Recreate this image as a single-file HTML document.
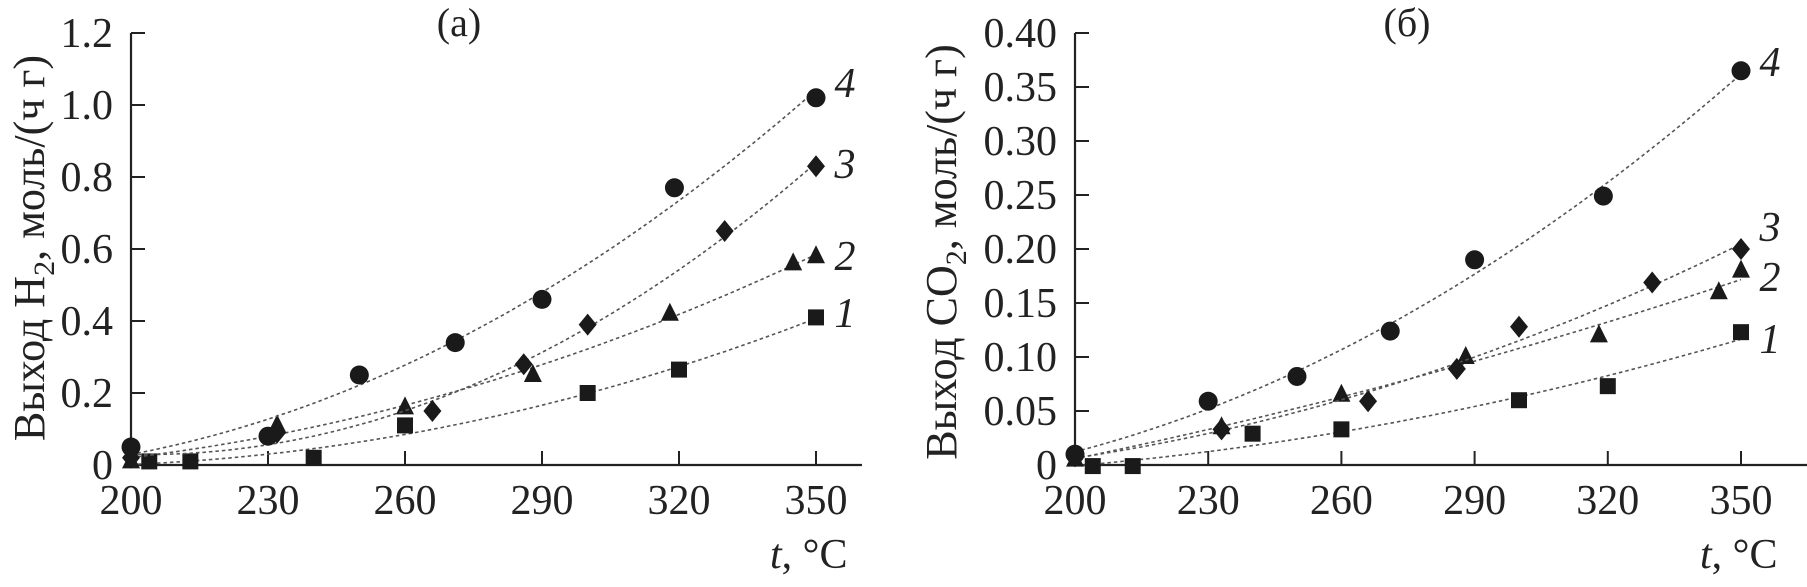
<!DOCTYPE html>
<html><head><meta charset="utf-8">
<style>
html,body{margin:0;padding:0;background:#fff;}
svg, svg text{font-family:"Liberation Serif","DejaVu Serif",serif;}
</style></head>
<body>
<svg id="fig" width="1807" height="582" viewBox="0 0 1807 582" xmlns="http://www.w3.org/2000/svg" font-family="Liberation Serif, DejaVu Serif, serif"></svg>
<script>
// ---- data: panel (a) H2 yield ----
const xTicks = [200, 230, 260, 290, 320, 350];
const yTicksA = [0, 0.2, 0.4, 0.6, 0.8, 1.0, 1.2];
const yTickLabelsA = ["0", "0.2", "0.4", "0.6", "0.8", "1.0", "1.2"];
const a1x = [204, 213, 240, 260, 300, 320, 350];
const a1y = [0.01, 0.01, 0.02, 0.11, 0.20, 0.265, 0.41];
const a2x = [200, 232, 260, 288, 318, 345, 350];
const a2y = [0.01, 0.11, 0.16, 0.25, 0.42, 0.56, 0.58];
const a3x = [200, 232, 266, 286, 300, 330, 350];
const a3y = [0.02, 0.09, 0.15, 0.28, 0.39, 0.65, 0.83];
const a4x = [200, 230, 250, 271, 290, 319, 350];
const a4y = [0.05, 0.08, 0.25, 0.34, 0.46, 0.77, 1.02];
// ---- data: panel (б) CO2 yield ----
const yTicksB = [0, 0.05, 0.10, 0.15, 0.20, 0.25, 0.30, 0.35, 0.40];
const yTickLabelsB = ["0", "0.05", "0.10", "0.15", "0.20", "0.25", "0.30", "0.35", "0.40"];
const b1x = [204, 213, 240, 260, 300, 320, 350];
const b1y = [-0.001, -0.001, 0.029, 0.033, 0.06, 0.073, 0.123];
const b2x = [200, 233, 260, 288, 318, 345, 350];
const b2y = [0.005, 0.035, 0.065, 0.10, 0.12, 0.16, 0.18];
const b3x = [200, 233, 266, 286, 300, 330, 350];
const b3y = [0.008, 0.033, 0.059, 0.089, 0.128, 0.169, 0.20];
const b4x = [200, 230, 250, 271, 290, 319, 350];
const b4y = [0.01, 0.059, 0.082, 0.124, 0.19, 0.249, 0.365];
const seriesLabels = ["1", "2", "3", "4"];

const NS = "http://www.w3.org/2000/svg";
const svg = document.getElementById("fig");
const FONT = "Liberation Serif, DejaVu Serif, serif";
function el(tag, attrs, parent) {
  const e = document.createElementNS(NS, tag);
  for (const k in attrs) e.setAttribute(k, attrs[k]);
  if (tag === "text") e.setAttribute("font-family", FONT);
  (parent || svg).appendChild(e);
  return e;
}
function fitQuad(xs, ys) {
  let S = [[0,0,0],[0,0,0],[0,0,0]], R = [0,0,0];
  for (let i = 0; i < xs.length; i++) {
    const t = xs[i] - 200, p = [1, t, t*t];
    for (let r = 0; r < 3; r++) { R[r] += p[r]*ys[i]; for (let c = 0; c < 3; c++) S[r][c] += p[r]*p[c]; }
  }
  for (let i = 0; i < 3; i++) {
    for (let j = i+1; j < 3; j++) {
      const f = S[j][i]/S[i][i];
      for (let k = i; k < 3; k++) S[j][k] -= f*S[i][k];
      R[j] -= f*R[i];
    }
  }
  const c = [0,0,0];
  for (let i = 2; i >= 0; i--) {
    let s = R[i];
    for (let k = i+1; k < 3; k++) s -= S[i][k]*c[k];
    c[i] = s/S[i][i];
  }
  return x => c[0] + c[1]*(x-200) + c[2]*(x-200)*(x-200);
}
function marker(g, type, cx, cy) {
  let m;
  if (type === 0) m = el("rect", {x: cx-8, y: cy-8, width: 16, height: 16, fill: "#1a1a1a"}, g);
  else if (type === 1) m = el("polygon", {points: `${cx},${cy-11} ${cx+9},${cy+7} ${cx-9},${cy+7}`, fill: "#1a1a1a"}, g);
  else if (type === 2) m = el("polygon", {points: `${cx},${cy-11} ${cx+9},${cy} ${cx},${cy+11} ${cx-9},${cy}`, fill: "#1a1a1a"}, g);
  else m = el("circle", {cx: cx, cy: cy, r: 9.5, fill: "#1a1a1a"}, g);
  return m;
}
function panel(cfg) {
  const g = el("g", {});
  
  
  const X = v => cfg.x0 + (v-200)/150*(cfg.x1-cfg.x0);
  const Y = v => cfg.y0 - v/cfg.ymax*(cfg.y0-cfg.y1);
  const ya = el("line", {x1: cfg.x0, y1: cfg.y1, x2: cfg.x0, y2: cfg.y0, stroke: "#222", "stroke-width": 2.2}, g);
  
  
  const xa = el("line", {x1: cfg.x0, y1: cfg.y0, x2: cfg.xend, y2: cfg.y0, stroke: "#222", "stroke-width": 2.2}, g);
  
  
  cfg.yt.forEach((v, i) => {
    const y = Y(v);
    el("line", {x1: cfg.x0, y1: y, x2: cfg.x0+14, y2: y, stroke: "#222", "stroke-width": 2}, g);
    const t = el("text", {x: cfg.x0-18, y: y+14, "text-anchor": "end", "font-size": 42, fill: "#222"}, g);
    t.textContent = cfg.ytl[i];
    
    
  });
  xTicks.forEach(v => {
    const x = X(v);
    if (v !== 200) el("line", {x1: x, y1: cfg.y0, x2: x, y2: cfg.y0-14, stroke: "#222", "stroke-width": 2}, g);
    const t = el("text", {x: x, y: 514, "text-anchor": "middle", "font-size": 42, fill: "#222"}, g);
    t.textContent = String(v);
    
    
  });
  const tt = el("text", {x: cfg.titleX, y: 36, "text-anchor": "middle", "font-size": 40, fill: "#222"}, g);
  tt.textContent = cfg.title;
  
  
  const yt = el("text", {transform: `translate(${cfg.ytX},${cfg.ytY}) rotate(-90)`, "text-anchor": "middle", "font-size": 44, fill: "#222"}, g);
  
  
  const s1 = el("tspan", {}, yt); s1.textContent = cfg.ytA;
  const s2 = el("tspan", {"font-size": 30, dy: 10}, yt); s2.textContent = "2";
  const s3 = el("tspan", {dy: -10}, yt); s3.textContent = ", моль/(ч г)";
  const xt = el("text", {x: cfg.xtX, y: 568, "font-size": 42, fill: "#222"}, g);
  
  
  const i1 = el("tspan", {"font-style": "italic"}, xt); i1.textContent = "t";
  const i2 = el("tspan", {}, xt); i2.textContent = ", °C";
  cfg.series.forEach((s, k) => {
    const f = fitQuad(s[0], s[1]);
    let d = "";
    for (let v = 200; v <= 350.01; v += 2) d += (d ? "L" : "M") + X(v).toFixed(1) + "," + Y(f(v)).toFixed(1);
    const p = el("path", {d: d, fill: "none", stroke: "#555", "stroke-width": 1.6, "stroke-dasharray": "3.5,3"}, g);
    
    
    s[0].forEach((xv, i) => {
      const m = marker(g, k, X(xv), Y(s[1][i]));
      
      
    });
    const lb = el("text", {x: cfg.lblX, y: cfg.lblY[k], "font-size": 42, "font-style": "italic", fill: "#222", "text-anchor": "middle"}, g);
    lb.textContent = seriesLabels[k];
    
    
  });
}
panel({name: "panel-a-h2", x0: 131, x1: 816, xend: 862, y0: 465, y1: 33, ymax: 1.2,
  yt: yTicksA, ytl: yTickLabelsA, title: "(a)", titleX: 459,
  ytX: 44, ytY: 248, ytA: "Выход H", xtX: 770,
  series: [[a1x, a1y], [a2x, a2y], [a3x, a3y], [a4x, a4y]],
  lblX: 845, lblY: [327, 270, 178, 97]});
panel({name: "panel-b-co2", x0: 1075, x1: 1741, xend: 1807, y0: 465, y1: 33, ymax: 0.40,
  yt: yTicksB, ytl: yTickLabelsB, title: "(б)", titleX: 1407,
  ytX: 956, ytY: 252, ytA: "Выход CO", xtX: 1700,
  series: [[b1x, b1y], [b2x, b2y], [b3x, b3y], [b4x, b4y]],
  lblX: 1770, lblY: [353, 291, 241, 76]});
</script>
</body></html>
